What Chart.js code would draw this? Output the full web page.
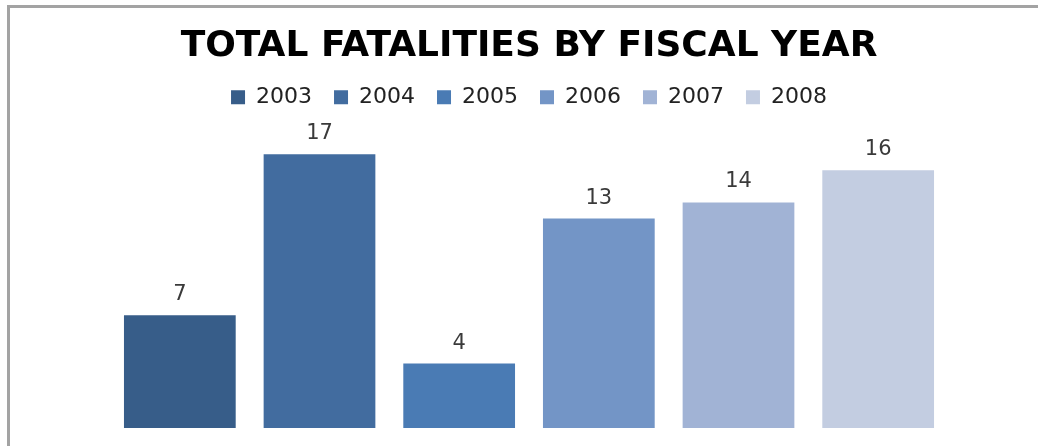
<!DOCTYPE html>
<html>
<head>
<meta charset="utf-8">
<script src="https://cdn.jsdelivr.net/npm/chart.js@4"></script>
<style>
  html, body { margin: 0; padding: 0; background: #fff; overflow: hidden; }
  body { width: 1038px; height: 446px; position: relative; }
  .frame {
    position: absolute; left: 7px; top: 5px; right: 0; bottom: 0;
    border-top: 3px solid #a3a3a3; border-left: 3px solid #a3a3a3;
  }
  #fatalities { position: absolute; left: 10px; top: 0; }
</style>
</head>
<body>
<div class="frame"></div>
<canvas id="fatalities" width="1038" height="446"></canvas>

<script>
  // fiscal years and fatality counts
  var years = ["2003", "2004", "2005", "2006", "2007", "2008"];
  var fatalities = [7, 17, 4, 13, 14, 16];
  var colors = ["#375d89", "#426c9f", "#4a7bb4", "#7395c6", "#a1b3d5", "#c3cde1"];

  // prints each bar's value just above it
  var valueLabels = {
    id: "valueLabels",
    afterDatasetsDraw: function(chart) {
      var ctx = chart.ctx;
      ctx.save();
      ctx.font = "21px 'DejaVu Sans'";
      ctx.fillStyle = "#3a3a3a";
      ctx.textAlign = "center";
      ctx.textBaseline = "alphabetic";
      chart.data.datasets.forEach(function(ds, i) {
        var bar = chart.getDatasetMeta(i).data[0];
        ctx.fillText(String(ds.data[0]), bar.x, bar.y - 15);
      });
      ctx.restore();
    }
  };

  var context = document.getElementById("fatalities").getContext("2d");

  var chart = new Chart(context, {
    type: "bar",
    data: {
      labels: ["Fatalities"],
      datasets: years.map(function(year, i) {
        return {
          label: year,
          data: [fatalities[i]],
          backgroundColor: colors[i],
          borderWidth: 0
        };
      })
    },
    options: {
      responsive: false,
      animation: false,
      layout: { padding: { left: 100, right: 100, top: 0, bottom: 18 } },
      categoryPercentage: 1,
      barPercentage: 0.8,
      scales: {
        x: { display: false },
        y: { display: false, min: 0, max: 19.23 }
      },
      plugins: {
        tooltip: { enabled: false },
        title: {
          display: true,
          text: "TOTAL FATALITIES BY FISCAL YEAR",
          color: "#000",
          font: { family: "'DejaVu Sans'", size: 36, weight: "bold" },
          padding: { top: 25, bottom: -4 }
        },
        legend: {
          display: true,
          position: "top",
          labels: {
            boxWidth: 14,
            boxHeight: 14,
            padding: 22,
            color: "#222",
            font: { family: "'DejaVu Sans'", size: 22 }
          }
        }
      }
    },
    plugins: [valueLabels]
  });
</script>
</body>
</html>
